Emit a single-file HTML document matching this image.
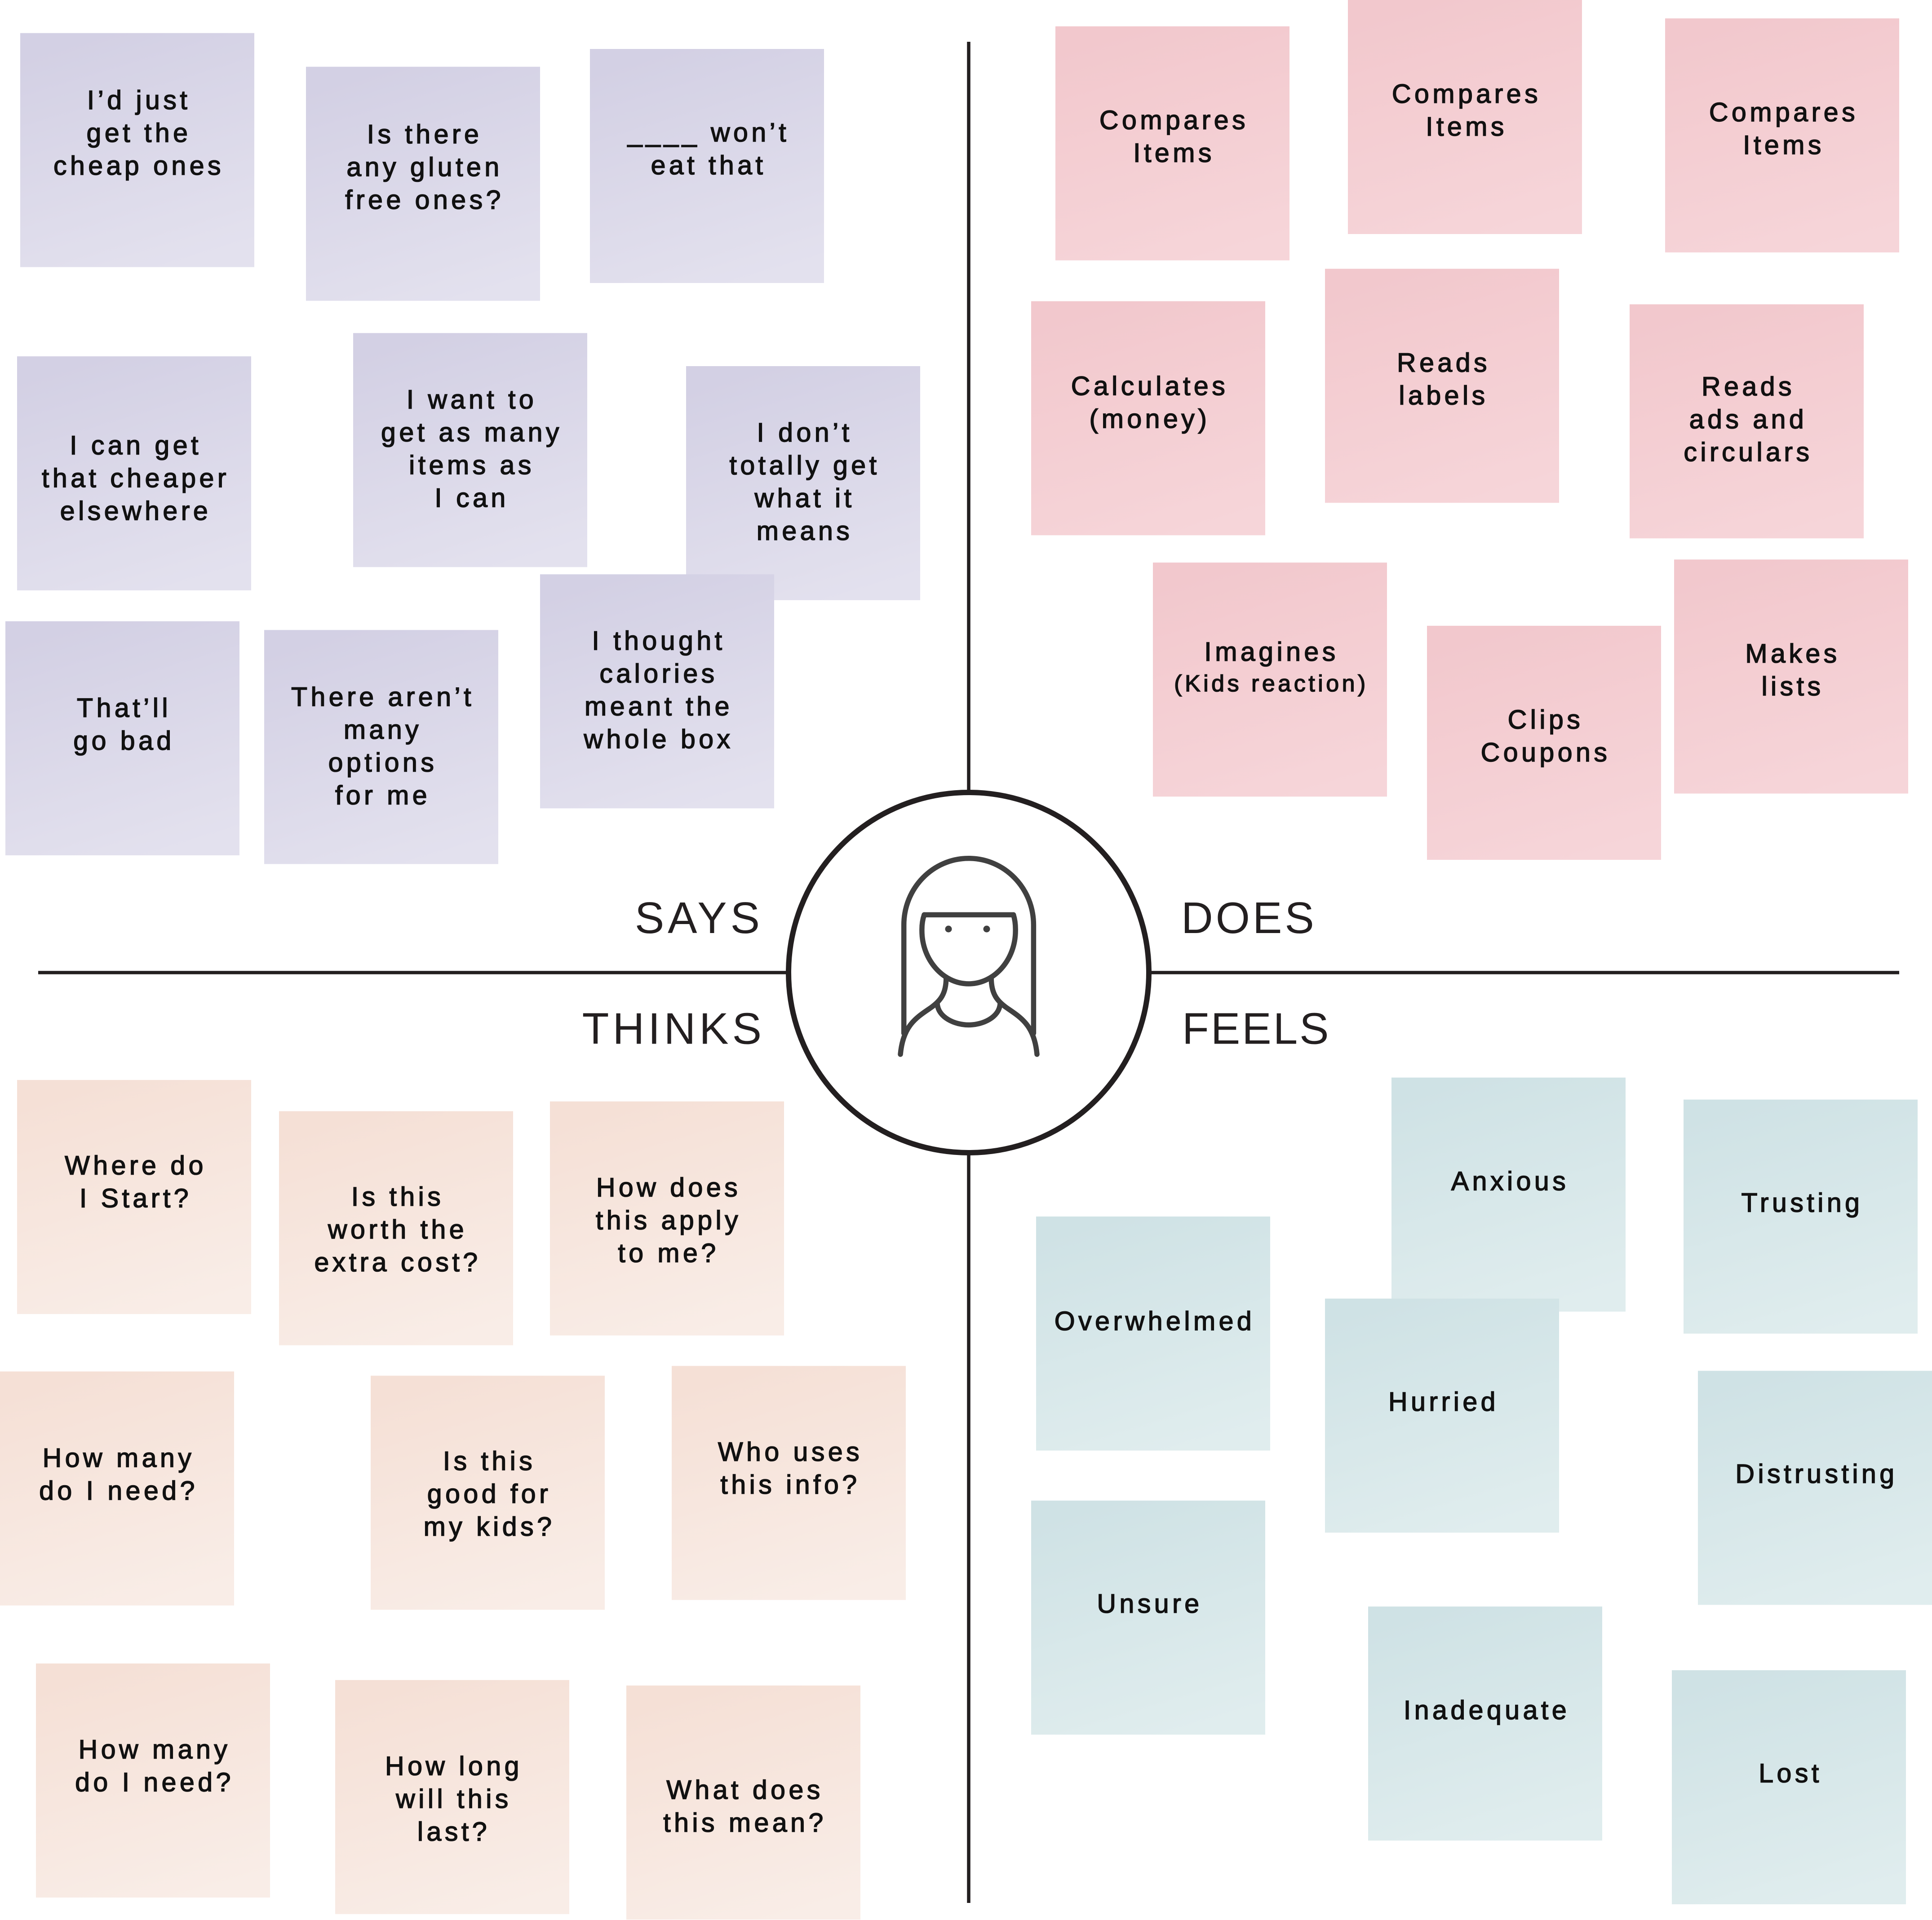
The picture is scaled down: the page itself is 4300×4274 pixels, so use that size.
<!DOCTYPE html>
<html>
<head>
<meta charset="utf-8">
<style>
html,body{margin:0;padding:0;background:#fff;}
body{width:4300px;height:4274px;overflow:hidden;}
svg{display:block;}
.t{font-family:"Liberation Sans",sans-serif;font-size:59px;letter-spacing:7.5px;fill:#111;stroke:#111;stroke-width:1.6px;text-anchor:middle;}
.s{font-size:52px;letter-spacing:6.5px;}
.lbl{font-family:"Liberation Sans",sans-serif;font-size:98px;fill:#231f20;}
</style>
</head>
<body>
<svg xmlns="http://www.w3.org/2000/svg" width="4300" height="4274" viewBox="0 0 4300 4274">
<defs>
<linearGradient id="gS" x1="0.35" y1="0" x2="0.65" y2="1"><stop offset="0" stop-color="#d3d0e4"/><stop offset="1" stop-color="#e3e1ee"/></linearGradient>
<linearGradient id="gD" x1="0.35" y1="0" x2="0.65" y2="1"><stop offset="0" stop-color="#f2c8cd"/><stop offset="1" stop-color="#f6d5d9"/></linearGradient>
<linearGradient id="gT" x1="0.35" y1="0" x2="0.65" y2="1"><stop offset="0" stop-color="#f5e0d6"/><stop offset="1" stop-color="#f9ede7"/></linearGradient>
<linearGradient id="gF" x1="0.35" y1="0" x2="0.65" y2="1"><stop offset="0" stop-color="#cfe2e5"/><stop offset="1" stop-color="#e0edee"/></linearGradient>
</defs>
<rect width="4300" height="4274" fill="#fff"/>

<!-- SAYS -->
<rect x="45" y="73.6" width="521" height="521" fill="url(#gS)"/>
<text class="t" x="309" y="242.8">I’d just<tspan x="309" dy="73">get the</tspan><tspan x="309" dy="73">cheap ones</tspan></text>
<rect x="681" y="148.6" width="521" height="521" fill="url(#gS)"/>
<text class="t" x="945" y="319.2">Is there<tspan x="945" dy="73">any gluten</tspan><tspan x="945" dy="73">free ones?</tspan></text>
<rect x="1313" y="109" width="521" height="521" fill="url(#gS)"/>
<text class="t" x="1577" y="315">____ won’t<tspan x="1577" dy="73">eat that</tspan></text>
<rect x="38" y="793.2" width="521" height="521" fill="url(#gS)"/>
<text class="t" x="302" y="1011.5">I can get<tspan x="302" dy="73">that cheaper</tspan><tspan x="302" dy="73">elsewhere</tspan></text>
<rect x="786" y="741.4" width="521" height="521" fill="url(#gS)"/>
<text class="t" x="1050" y="909.3">I want to<tspan x="1050" dy="73">get as many</tspan><tspan x="1050" dy="73">items as</tspan><tspan x="1050" dy="73">I can</tspan></text>
<rect x="1527" y="815" width="521" height="521" fill="url(#gS)"/>
<text class="t" x="1791" y="983">I don’t<tspan x="1791" dy="73">totally get</tspan><tspan x="1791" dy="73">what it</tspan><tspan x="1791" dy="73">means</tspan></text>
<rect x="12" y="1383" width="521" height="521" fill="url(#gS)"/>
<text class="t" x="276" y="1596">That’ll<tspan x="276" dy="73">go bad</tspan></text>
<rect x="588" y="1402.4" width="521" height="521" fill="url(#gS)"/>
<text class="t" x="852" y="1571.7">There aren’t<tspan x="852" dy="73">many</tspan><tspan x="852" dy="73">options</tspan><tspan x="852" dy="73">for me</tspan></text>
<rect x="1202" y="1278.4" width="521" height="521" fill="url(#gS)"/>
<text class="t" x="1466" y="1446.3">I thought<tspan x="1466" dy="73">calories</tspan><tspan x="1466" dy="73">meant the</tspan><tspan x="1466" dy="73">whole box</tspan></text>

<!-- DOES -->
<rect x="2349" y="58.6" width="521" height="521" fill="url(#gD)"/>
<text class="t" x="2613" y="287.6">Compares<tspan x="2613" dy="73">Items</tspan></text>
<rect x="3000" y="0" width="521" height="521" fill="url(#gD)"/>
<text class="t" x="3264" y="229.2">Compares<tspan x="3264" dy="73">Items</tspan></text>
<rect x="3706" y="40.9" width="521" height="521" fill="url(#gD)"/>
<text class="t" x="3970" y="270">Compares<tspan x="3970" dy="73">Items</tspan></text>
<rect x="2295" y="670.5" width="521" height="521" fill="url(#gD)"/>
<text class="t" x="2559" y="879.3">Calculates<tspan x="2559" dy="73">(money)</tspan></text>
<rect x="2949" y="598.3" width="521" height="521" fill="url(#gD)"/>
<text class="t" x="3213" y="827.5">Reads<tspan x="3213" dy="73">labels</tspan></text>
<rect x="3627" y="677.4" width="521" height="521" fill="url(#gD)"/>
<text class="t" x="3891" y="880.7">Reads<tspan x="3891" dy="73">ads and</tspan><tspan x="3891" dy="73">circulars</tspan></text>
<rect x="2566" y="1252.3" width="521" height="521" fill="url(#gD)"/>
<text class="t" x="2830" y="1471">Imagines</text>
<text class="t s" x="2829.5" y="1539">(Kids reaction)</text>
<rect x="3176" y="1393" width="521" height="521" fill="url(#gD)"/>
<text class="t" x="3440" y="1622">Clips<tspan x="3440" dy="73">Coupons</tspan></text>
<rect x="3726" y="1245.5" width="521" height="521" fill="url(#gD)"/>
<text class="t" x="3990" y="1475">Makes<tspan x="3990" dy="73">lists</tspan></text>

<!-- THINKS -->
<rect x="38" y="2404.1" width="521" height="521" fill="url(#gT)"/>
<text class="t" x="302" y="2614.3">Where do<tspan x="302" dy="73">I Start?</tspan></text>
<rect x="621" y="2473.6" width="521" height="521" fill="url(#gT)"/>
<text class="t" x="885" y="2683.8">Is this<tspan x="885" dy="73">worth the</tspan><tspan x="885" dy="73">extra cost?</tspan></text>
<rect x="1224" y="2451.8" width="521" height="521" fill="url(#gT)"/>
<text class="t" x="1488" y="2663.3">How does<tspan x="1488" dy="73">this apply</tspan><tspan x="1488" dy="73">to me?</tspan></text>
<rect x="0" y="3052.9" width="521" height="521" fill="url(#gT)"/>
<text class="t" x="264" y="3265.7">How many<tspan x="264" dy="73">do I need?</tspan></text>
<rect x="825" y="3062.4" width="521" height="521" fill="url(#gT)"/>
<text class="t" x="1089" y="3272.5">Is this<tspan x="1089" dy="73">good for</tspan><tspan x="1089" dy="73">my kids?</tspan></text>
<rect x="1495" y="3040.6" width="521" height="521" fill="url(#gT)"/>
<text class="t" x="1759" y="3252">Who uses<tspan x="1759" dy="73">this info?</tspan></text>
<rect x="80" y="3703" width="521" height="521" fill="url(#gT)"/>
<text class="t" x="344" y="3914.5">How many<tspan x="344" dy="73">do I need?</tspan></text>
<rect x="746" y="3739.8" width="521" height="521" fill="url(#gT)"/>
<text class="t" x="1010" y="3951.3">How long<tspan x="1010" dy="73">will this</tspan><tspan x="1010" dy="73">last?</tspan></text>
<rect x="1394" y="3752" width="521" height="521" fill="url(#gT)"/>
<text class="t" x="1658" y="4004.4">What does<tspan x="1658" dy="73">this mean?</tspan></text>

<!-- FEELS -->
<rect x="3097" y="2398.7" width="521" height="521" fill="url(#gF)"/>
<text class="t" x="3361" y="2649.7">Anxious</text>
<rect x="3747" y="2447.7" width="521" height="521" fill="url(#gF)"/>
<text class="t" x="4011" y="2697.4">Trusting</text>
<rect x="2306" y="2708" width="521" height="521" fill="url(#gF)"/>
<text class="t" x="2570" y="2961">Overwhelmed</text>
<rect x="2949" y="2890.7" width="521" height="521" fill="url(#gF)"/>
<text class="t" x="3213" y="3140.3">Hurried</text>
<rect x="3779" y="3051.5" width="521" height="521" fill="url(#gF)"/>
<text class="t" x="4043" y="3301.2">Distrusting</text>
<rect x="2295" y="3340.4" width="521" height="521" fill="url(#gF)"/>
<text class="t" x="2559" y="3590">Unsure</text>
<rect x="3045" y="3576.2" width="521" height="521" fill="url(#gF)"/>
<text class="t" x="3309" y="3827.2">Inadequate</text>
<rect x="3721" y="3718" width="521" height="521" fill="url(#gF)"/>
<text class="t" x="3985" y="3967.6">Lost</text>

<!-- axes -->
<line x1="85" y1="2165" x2="4227" y2="2165" stroke="#231f20" stroke-width="7.5"/>
<line x1="2156" y1="93" x2="2156" y2="4236" stroke="#231f20" stroke-width="7.5"/>
<circle cx="2156" cy="2165" r="401" fill="#fff" stroke="#231f20" stroke-width="12"/>

<!-- person icon -->
<g fill="none" stroke="#404040" stroke-width="11.5" stroke-linecap="round" stroke-linejoin="round">
<path d="M2011.7 2300 L2011.7 2059 C2011.7 1977 2076.3 1910.7 2156 1910.7 C2235.7 1910.7 2300.4 1977 2300.4 2059 L2300.4 2300"/>
<path d="M2057 2036.4 L2255.6 2036.4"/>
<path d="M2057 2036.4 Q2051.5 2052 2051.9 2072 C2051.9 2136 2098.6 2190 2156 2190 C2213.4 2190 2260.1 2136 2260.1 2072 Q2260.5 2052 2255.6 2036.4"/>
<path d="M2105.8 2176 C2106 2212 2093 2228 2072 2243 C2040 2265 2010 2282 2004 2347"/>
<path d="M2206.2 2176 C2206 2212 2219 2228 2240 2243 C2272 2265 2302 2282 2308 2347"/>
<path d="M2086 2234 C2088 2265 2125 2281.5 2156 2281.5 C2187 2281.5 2224 2265 2226 2234"/>
</g>
<circle cx="2111" cy="2068" r="7.5" fill="#404040"/>
<circle cx="2196" cy="2068" r="7.5" fill="#404040"/>

<!-- labels -->
<text class="lbl" x="1699" y="2077" text-anchor="end" letter-spacing="8">SAYS</text>
<text class="lbl" x="1703" y="2323.5" text-anchor="end" letter-spacing="8">THINKS</text>
<text class="lbl" x="2629" y="2077" letter-spacing="6">DOES</text>
<text class="lbl" x="2631" y="2323.5" letter-spacing="4">FEELS</text>
</svg>
</body>
</html>
